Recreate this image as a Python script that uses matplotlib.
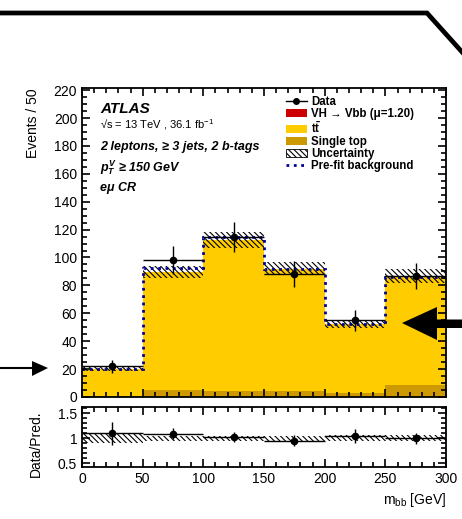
import numpy as np
import matplotlib.pyplot as plt
from matplotlib.patches import Patch, Polygon
from matplotlib.lines import Line2D
from matplotlib.ticker import MultipleLocator

# Data
edges = [0, 50, 100, 150, 200, 250, 300]
data = [22, 98, 115, 88, 55, 87]
single_top = [0.5, 5.3, 4.0, 4.0, 2.9, 8.6]
ttbar = [19.5, 84.2, 108.3, 87.9, 49.4, 78.2]
signal = [0.0, 0.1, 0.2, 0.1, 0.2, 0.2]
unc = [1.7, 4.5, 5.5, 4.5, 3.0, 5.0]
prefit = [20.3, 92.6, 114.5, 91.4, 52.6, 86.0]

# Style
plt.rcParams['font.family'] = ['Liberation Sans', 'DejaVu Sans']
plt.rcParams['mathtext.fontset'] = 'custom'
plt.rcParams['mathtext.rm'] = 'Liberation Sans'
plt.rcParams['mathtext.it'] = 'Liberation Sans:bold:italic'
plt.rcParams['mathtext.bf'] = 'Liberation Sans:bold'
plt.rcParams['hatch.linewidth'] = 0.8

W, H = 462, 519


def px(x, y):
    return (x / W, 1 - y / H)


fig = plt.figure(figsize=(W / 100, H / 100), dpi=100)
ax = fig.add_axes([0.1775, 0.2351, 0.788, 0.5953])
axr = fig.add_axes([0.1775, 0.1002, 0.788, 0.1162])

edges = np.array(edges, dtype=float)
left = edges[:-1]
width = np.diff(edges)
centers = left + width / 2
data = np.array(data, dtype=float)
single_top = np.array(single_top)
ttbar = np.array(ttbar)
signal = np.array(signal)
unc = np.array(unc)
total = single_top + ttbar + signal

YELLOW = '#ffcc00'
GOLD = '#cc9900'
RED = '#cc0000'
BLUE = '#000099'
HATCH = '\\' * 6

# Main panel
ax.bar(left, single_top, width=width, align='edge', color=GOLD, lw=0)
ax.bar(left, ttbar, width=width, bottom=single_top, align='edge', color=YELLOW, lw=0)
ax.bar(left, signal, width=width, bottom=single_top + ttbar, align='edge', color=RED, lw=0)
ax.bar(left, 2 * unc, width=width, bottom=total - unc, align='edge',
       fill=False, hatch=HATCH, lw=0, edgecolor='k')
ax.stairs(prefit, edges, baseline=None, color=BLUE, ls=':', lw=2)
ax.errorbar(centers, data, xerr=width / 2, yerr=np.sqrt(data), fmt='o', color='k',
            ms=4.5, elinewidth=1, capsize=0)

ax.set_xlim(0, 300)
ax.set_ylim(0, 221.5)
ax.set_ylabel('Events / 50', fontsize=10, loc='top')
ax.yaxis.set_label_coords(-0.115, 1.0)
ax.yaxis.set_major_locator(MultipleLocator(20))
ax.yaxis.set_minor_locator(MultipleLocator(5))
ax.xaxis.set_major_locator(MultipleLocator(50))
ax.xaxis.set_minor_locator(MultipleLocator(10))
ax.tick_params(labelbottom=False)

# Ratio panel
axr.bar(left, 2 * unc / total, width=width, bottom=1 - unc / total, align='edge',
        fill=False, hatch=HATCH, lw=0, edgecolor='k')
axr.errorbar(centers, data / total, xerr=width / 2, yerr=np.sqrt(data) / total,
             fmt='o', color='k', ms=4.5, elinewidth=1, capsize=0)
axr.set_xlim(0, 300)
axr.set_ylim(0.43, 1.63)
axr.set_yticks([0.5, 1, 1.5], ['0.5', '1', '1.5'])
axr.yaxis.set_minor_locator(MultipleLocator(0.1))
axr.xaxis.set_major_locator(MultipleLocator(50))
axr.xaxis.set_minor_locator(MultipleLocator(10))
axr.set_ylabel('Data/Pred.', fontsize=10)
axr.yaxis.set_label_coords(-0.108, 0.38)
axr.set_xlabel(r'm$_{\rm bb}$ [GeV]', fontsize=10, loc='right')

for a in (ax, axr):
    a.tick_params(which='both', direction='in', top=True, right=True, labelsize=10, width=1.2)
    a.tick_params(which='major', length=6)
    a.tick_params(which='minor', length=3.5)
    for s in a.spines.values():
        s.set_linewidth(1.3)

# Labels
ax.text(0.05, 0.932, 'ATLAS', transform=ax.transAxes, fontsize=11,
        fontweight='bold', fontstyle='italic', va='center')
ax.text(0.05, 0.88, '√s = 13 TeV , 36.1 fb$^{-1}$', transform=ax.transAxes,
        fontsize=8, va='center')
ax.text(0.05, 0.809, '2 leptons, ≥ 3 jets, 2 b-tags', transform=ax.transAxes,
        fontsize=9, fontweight='bold', fontstyle='italic', va='center')
ax.text(0.05, 0.741, r'$p_T^V$ ≥ 150 GeV', transform=ax.transAxes,
        fontsize=9, fontweight='bold', fontstyle='italic', va='center')
ax.text(0.05, 0.676, 'eμ CR', transform=ax.transAxes,
        fontsize=9, fontweight='bold', fontstyle='italic', va='center')

handles = [
    Line2D([], [], color='k', marker='o', ms=4, lw=1),
    Patch(facecolor=RED, lw=0),
    Patch(facecolor=YELLOW, lw=0),
    Patch(facecolor=GOLD, lw=0),
    Patch(facecolor='white', edgecolor='k', hatch=HATCH, lw=0.6),
    Line2D([], [], color=BLUE, ls=':', lw=2),
]
labels = ['Data', 'VH → Vbb (μ=1.20)', r'$\mathbf{t\bar{t}}$', 'Single top',
          'Uncertainty', 'Pre-fit background']
leg = ax.legend(handles, labels, loc='upper left', bbox_to_anchor=px(286, 96),
                bbox_transform=fig.transFigure, frameon=False, fontsize=8.3,
                handlelength=1.8, handleheight=0.7, handletextpad=0.35,
                labelspacing=0.0, borderpad=0, borderaxespad=0)
for t in leg.get_texts():
    t.set_fontweight('bold')

# Decorations
fig.add_artist(Line2D([px(0, 13)[0], px(427, 13)[0], px(480, 72)[0]],
                      [px(0, 13)[1], px(427, 13)[1], px(480, 72)[1]],
                      transform=fig.transFigure, color='k', lw=3.4,
                      solid_joinstyle='miter'))
fig.add_artist(Line2D([px(0, 368)[0], px(34, 368)[0]], [px(0, 368)[1], px(34, 368)[1]],
                      transform=fig.transFigure, color='k', lw=1.5))
fig.add_artist(Polygon([px(48, 368), px(32, 361), px(32, 376)],
                       transform=fig.transFigure, color='k', lw=0))
fig.add_artist(Polygon([px(402, 323), px(437, 307), px(437, 319.5), px(470, 319.5),
                        px(470, 328), px(437, 328), px(437, 340)],
                       transform=fig.transFigure, color='k', lw=0))

fig.savefig('out.png', dpi=100)
